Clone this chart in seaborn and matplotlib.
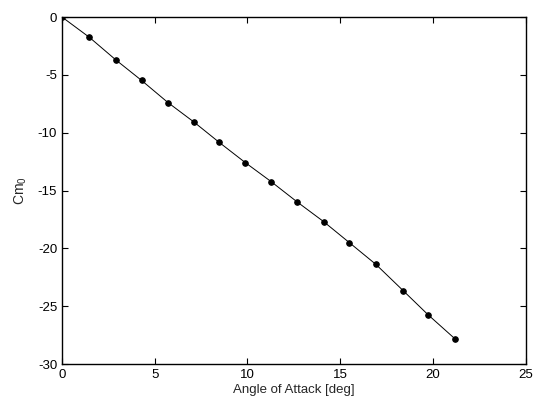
import matplotlib
matplotlib.use("Agg")
import matplotlib.pyplot as plt
import seaborn as sns
import pandas as pd

# Pitching moment coefficient versus angle of attack
alpha_deg = [0.0, 1.48, 2.89, 4.29, 5.71, 7.14, 8.48, 9.88, 11.27, 12.66,
             14.11, 15.50, 16.93, 18.40, 19.74, 21.19]
cm0 = [0.0, -1.76, -3.69, -5.48, -7.39, -9.11, -10.84, -12.58, -14.22, -15.96,
       -17.69, -19.51, -21.39, -23.66, -25.74, -27.82]

x_ticks = [0, 5, 10, 15, 20, 25]
y_ticks = [0, -5, -10, -15, -20, -25, -30]

df = pd.DataFrame({"alpha": alpha_deg, "cm0": cm0})

sns.set_theme(style="ticks")
plt.rcParams["font.family"] = ["Liberation Sans", "DejaVu Sans"]
plt.rcParams["mathtext.fontset"] = "custom"
plt.rcParams["mathtext.rm"] = "Liberation Sans"
plt.rcParams["mathtext.it"] = "Liberation Sans"
plt.rcParams["axes.unicode_minus"] = False

fig = plt.figure(figsize=(5.33, 4.05), dpi=100)
ax = fig.add_axes([0.1163, 0.101, 0.870, 0.857])

sns.lineplot(data=df, x="alpha", y="cm0", ax=ax, color="black", linewidth=0.7,
             marker="o", markersize=4, markeredgecolor="black",
             markerfacecolor="black", sort=False)

ax.set_xlim(0, 25)
ax.set_ylim(-30, 0)
ax.set_xticks(x_ticks)
ax.set_yticks(y_ticks)
ax.tick_params(direction="in", top=True, right=True, length=4, width=0.8,
               labelsize=9.5, colors="black")
for side in ["top", "right", "bottom", "left"]:
    ax.spines[side].set_visible(True)
    ax.spines[side].set_linewidth(1.0)
    ax.spines[side].set_color("black")

ax.set_xlabel("Angle of Attack [deg]", fontsize=9.5, labelpad=2)
ax.set_ylabel(r"Cm$_0$", fontsize=10, labelpad=6)

fig.savefig("out.png", dpi=100, facecolor="white")
